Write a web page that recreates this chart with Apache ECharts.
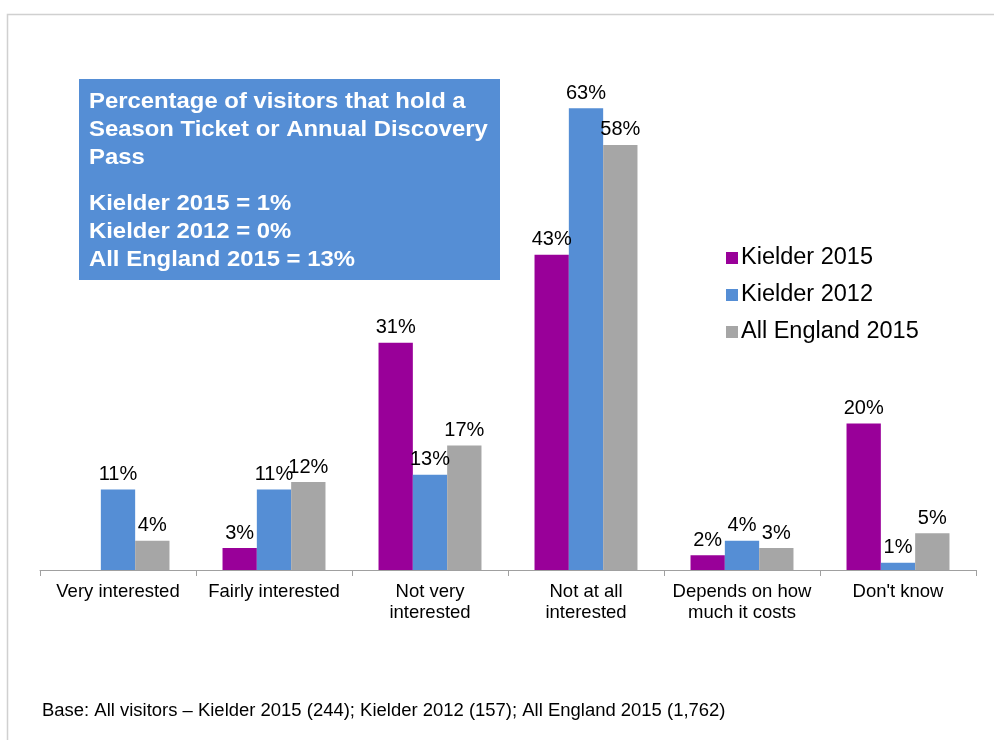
<!DOCTYPE html>
<html>
<head>
<meta charset="utf-8">
<script src="https://cdn.jsdelivr.net/npm/echarts@6/dist/echarts.min.js"></script>
<style>
  html, body { margin: 0; padding: 0; background: #fff; }
  #chart { width: 994px; height: 740px; }
</style>
</head>
<body>
<div id="chart"></div>
<script>
// Interest in a season ticket, by survey
const categories = ['Very interested', 'Fairly interested', 'Not very\ninterested',
                    'Not at all\ninterested', 'Depends on how\nmuch it costs', "Don't know"];
const seriesNames = ['Kielder 2015', 'Kielder 2012', 'All England 2015'];
const kielder2015 = [null, 3, 31, 43, 2, 20];
const kielder2012 = [11, 11, 13, 63, 4, 1];
const england2015 = [4, 12, 17, 58, 3, 5];
const colors = ['#990099', '#558ED5', '#A6A6A6'];

const boxTitle = ['Percentage of visitors that hold a', 'Season Ticket or Annual Discovery', 'Pass'];
const boxFacts = ['Kielder 2015 = 1%', 'Kielder 2012 = 0%', 'All England 2015 = 13%'];
const baseNote = 'Base: All visitors \u2013 Kielder 2015 (244); Kielder 2012 (157); All England 2015 (1,762)';

const font = '"Liberation Sans", Arial, sans-serif';
const chart = echarts.init(document.getElementById('chart'));

const values = [kielder2015, kielder2012, england2015];
const series = seriesNames.map((name, i) => ({
  name,
  type: 'bar',
  data: values[i],
  barGap: '0%',
  barCategoryGap: '34%',
  itemStyle: { color: colors[i] },
  label: {
    show: true,
    position: 'top',
    distance: 5,
    formatter: p => p.value == null ? '' : p.value + '%',
    color: '#000',
    fontFamily: font,
    fontSize: 20
  }
}));

chart.setOption({
  animation: false,
  textStyle: { fontFamily: font },
  grid: { left: 40, right: 18, top: 57, bottom: 170 },
  legend: {
    orient: 'vertical',
    left: 721,
    top: 241,
    icon: 'rect',
    itemWidth: 12,
    itemHeight: 12,
    itemGap: 13,
    textStyle: { fontFamily: font, fontSize: 23.5, color: '#000', padding: [0, 0, 0, -2] },
    data: seriesNames
  },
  xAxis: {
    type: 'category',
    data: categories,
    axisLine: { lineStyle: { color: '#A0A0A0', width: 1 } },
    axisTick: { show: true, length: 6, lineStyle: { color: '#A0A0A0' } },
    axisLabel: { color: '#000', fontFamily: font, fontSize: 18.5, lineHeight: 21, margin: 11, interval: 0 }
  },
  yAxis: {
    type: 'value',
    min: 0,
    max: 70,
    show: false
  },
  series,
  graphic: [
    {
      type: 'rect',
      left: 5, top: 12, silent: true,
      shape: { width: 1000, height: 740 },
      style: { fill: 'none', stroke: '#D0D0D0', lineWidth: 1.5 }
    },
    {
      type: 'rect',
      left: 79, top: 79, silent: true,
      shape: { width: 421, height: 201 },
      style: { fill: '#558ED5' }
    },
    {
      type: 'text',
      x: 89, y: 88, scaleX: 1.11,
      style: {
        text: boxTitle.join('\n'),
        fill: '#fff', font: 'bold 21.5px ' + font, lineHeight: 28
      }
    },
    {
      type: 'text',
      x: 89, y: 190, scaleX: 1.11,
      style: {
        text: boxFacts.join('\n'),
        fill: '#fff', font: 'bold 21.5px ' + font, lineHeight: 28
      }
    },
    {
      type: 'text',
      x: 42, y: 702, scaleX: 1.055,
      style: { text: baseNote, fill: '#000', font: '17.5px ' + font }
    }
  ]
});
</script>
</body>
</html>
